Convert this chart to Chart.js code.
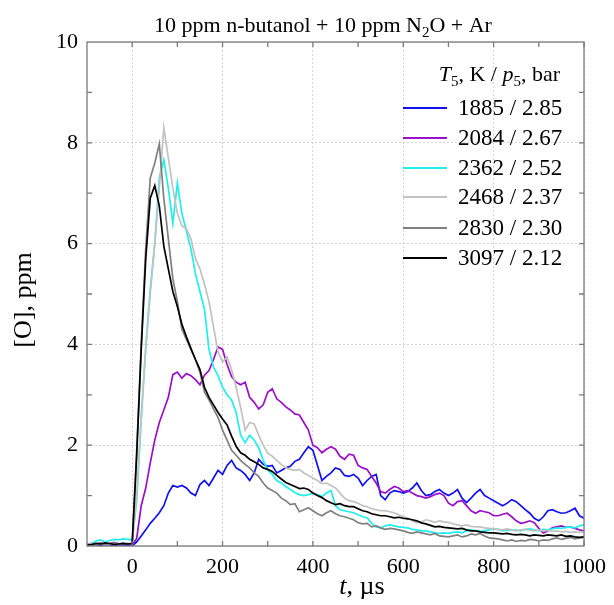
<!DOCTYPE html>
<html>
<head>
<meta charset="utf-8">
<script src="https://cdn.jsdelivr.net/npm/chart.js@4"></script>
<style>
  html, body { margin: 0; padding: 0; background: #fff; }
  #wrap { width: 614px; height: 605px; }
</style>
</head>
<body>
<div id="wrap"><canvas id="chart" width="614" height="605"></canvas></div>
<script>
// temps en µs (pas de 10 µs)
const t = [
  -100, -90, -80, -70, -60, -50, -40, -30, -20, -10,
  0, 10, 20, 30, 40, 50, 60, 70, 80, 90,
  100, 110, 120, 130, 140, 150, 160, 170, 180, 190,
  200, 210, 220, 230, 240, 250, 260, 270, 280, 290,
  300, 310, 320, 330, 340, 350, 360, 370, 380, 390,
  400, 410, 420, 430, 440, 450, 460, 470, 480, 490,
  500, 510, 520, 530, 540, 550, 560, 570, 580, 590,
  600, 610, 620, 630, 640, 650, 660, 670, 680, 690,
  700, 710, 720, 730, 740, 750, 760, 770, 780, 790,
  800, 810, 820, 830, 840, 850, 860, 870, 880, 890,
  900, 910, 920, 930, 940, 950, 960, 970, 980, 990,
  1000
];

// [O] en ppm, une série par essai
const o1885 = [
  0.01, 0.02, 0.02, 0.01, 0.03, 0.02, 0.01, 0.02, 0.02, 0.01,
  0.00, 0.08, 0.20, 0.32, 0.45, 0.55, 0.66, 0.80, 1.05, 1.20,
  1.17, 1.20, 1.15, 1.05, 1.00, 1.22, 1.30, 1.20, 1.35, 1.50,
  1.42, 1.60, 1.70, 1.55, 1.50, 1.42, 1.30, 1.45, 1.72, 1.62,
  1.58, 1.60, 1.45, 1.50, 1.55, 1.58, 1.68, 1.72, 1.85, 1.97,
  1.90, 1.60, 1.30, 1.38, 1.45, 1.55, 1.52, 1.40, 1.38, 1.42,
  1.35, 1.20, 1.30, 1.38, 1.42, 1.00, 0.92, 1.05, 1.10, 1.08,
  1.05, 1.08, 1.15, 1.25, 1.10, 1.00, 1.02, 1.08, 1.12, 1.05,
  1.00, 1.05, 1.12, 0.95, 0.86, 0.95, 1.05, 1.12, 1.00, 0.95,
  0.90, 0.85, 0.80, 0.85, 0.92, 0.88, 0.80, 0.72, 0.65, 0.55,
  0.50, 0.58, 0.70, 0.72, 0.68, 0.65, 0.66, 0.70, 0.75, 0.60,
  0.55
];
const o2084 = [
  0.03, 0.05, 0.04, 0.06, 0.03, 0.05, 0.07, 0.04, 0.05, 0.03,
  0.02, 0.15, 0.80, 1.15, 1.65, 2.10, 2.45, 2.70, 2.95, 3.40,
  3.45, 3.33, 3.42, 3.38, 3.30, 3.20, 3.39, 3.48, 3.70, 3.95,
  3.90, 3.60, 3.36, 3.25, 3.20, 3.25, 2.95, 2.85, 2.72, 2.80,
  3.05, 3.12, 2.92, 2.85, 2.76, 2.70, 2.62, 2.60, 2.45, 2.30,
  2.00, 1.95, 1.85, 1.92, 1.97, 1.92, 1.78, 1.72, 1.82, 1.80,
  1.60, 1.55, 1.52, 1.38, 1.25, 1.08, 1.05, 1.12, 1.18, 1.15,
  1.08, 1.10, 1.05, 1.00, 0.98, 0.95, 0.98, 1.02, 1.05, 1.00,
  0.85, 0.80, 0.88, 0.90, 0.80, 0.70, 0.65, 0.70, 0.68, 0.66,
  0.60, 0.60, 0.63, 0.65, 0.58, 0.50, 0.45, 0.47, 0.50, 0.46,
  0.35, 0.26, 0.30, 0.36, 0.38, 0.40, 0.37, 0.38, 0.35, 0.32,
  0.30
];
const o2362 = [
  0.02, 0.04, 0.10, 0.12, 0.08, 0.11, 0.13, 0.12, 0.14, 0.13,
  0.12, 0.90, 2.50, 3.95, 5.10, 6.00, 7.30, 7.66, 7.10, 6.40,
  7.20, 6.60, 6.25, 5.90, 5.40, 5.05, 4.70, 3.90, 3.55, 3.38,
  3.15, 3.00, 2.90, 2.65, 2.20, 2.05, 2.20, 2.10, 1.95, 1.70,
  1.51, 1.42, 1.30, 1.25, 1.18, 1.12, 1.06, 1.02, 1.00, 1.02,
  1.05, 1.02, 0.98, 1.05, 1.10, 0.80, 0.72, 0.70, 0.68, 0.66,
  0.62, 0.58, 0.56, 0.45, 0.38, 0.36, 0.40, 0.42, 0.40, 0.38,
  0.37, 0.36, 0.33, 0.32, 0.30, 0.30, 0.28, 0.26, 0.25, 0.26,
  0.25, 0.27, 0.28, 0.26, 0.30, 0.32, 0.30, 0.29, 0.30, 0.32,
  0.34, 0.33, 0.30, 0.32, 0.31, 0.32, 0.30, 0.33, 0.34, 0.32,
  0.30, 0.33, 0.32, 0.34, 0.36, 0.35, 0.37, 0.38, 0.36, 0.40,
  0.42
];
const o2468 = [
  0.03, 0.04, 0.02, 0.05, 0.04, 0.03, 0.05, 0.04, 0.06, 0.05,
  0.05, 1.00, 2.60, 3.90, 5.00, 6.00, 7.10, 8.30, 7.70, 7.10,
  6.60, 6.35, 6.30, 6.10, 5.70, 5.50, 5.20, 4.85, 4.35, 3.85,
  3.65, 3.75, 3.50, 3.15, 2.75, 2.30, 2.45, 2.42, 2.20, 2.00,
  1.84, 1.78, 1.70, 1.62, 1.55, 1.52, 1.50, 1.52, 1.45, 1.40,
  1.35, 1.30, 1.24, 1.25, 1.20, 1.15, 1.05, 0.95, 0.90, 0.88,
  0.85, 0.80, 0.78, 0.74, 0.72, 0.70, 0.70, 0.68, 0.66, 0.62,
  0.58, 0.55, 0.50, 0.46, 0.48, 0.52, 0.50, 0.47, 0.50, 0.48,
  0.47, 0.44, 0.42, 0.40, 0.42, 0.39, 0.38, 0.38, 0.36, 0.35,
  0.34, 0.33, 0.32, 0.34, 0.32, 0.30, 0.32, 0.33, 0.31, 0.30,
  0.32, 0.30, 0.31, 0.29, 0.30, 0.28, 0.29, 0.27, 0.28, 0.27,
  0.28
];
const o2830 = [
  0.03, 0.02, 0.04, 0.05, 0.03, 0.04, 0.06, 0.05, 0.04, 0.05,
  0.05, 1.90, 4.00, 5.90, 7.30, 7.60, 7.98, 6.90, 6.10, 5.30,
  4.85, 4.30, 4.10, 3.90, 3.70, 3.45, 3.05, 2.90, 2.72, 2.55,
  2.30, 2.10, 1.90, 1.80, 1.70, 1.62, 1.55, 1.45, 1.38, 1.25,
  1.15, 1.10, 1.05, 0.95, 0.90, 0.82, 0.84, 0.68, 0.72, 0.76,
  0.70, 0.64, 0.60, 0.66, 0.70, 0.64, 0.60, 0.58, 0.55, 0.52,
  0.46, 0.44, 0.45, 0.38, 0.40, 0.36, 0.33, 0.35, 0.34, 0.32,
  0.30, 0.27, 0.25, 0.28, 0.26, 0.24, 0.22, 0.25, 0.20, 0.19,
  0.18, 0.20, 0.22, 0.18, 0.20, 0.24, 0.22, 0.25, 0.20, 0.16,
  0.15, 0.14, 0.12, 0.10, 0.12, 0.09, 0.11, 0.10, 0.13, 0.12,
  0.10, 0.12, 0.11, 0.14, 0.16, 0.13, 0.15, 0.17, 0.14, 0.16,
  0.17
];
const o3097 = [
  0.02, 0.03, 0.05, 0.04, 0.06, 0.05, 0.03, 0.04, 0.05, 0.04,
  0.05, 1.80, 3.90, 5.70, 6.90, 7.15, 6.75, 5.95, 5.50, 5.05,
  4.75, 4.40, 4.15, 3.92, 3.70, 3.50, 3.15, 2.95, 2.80, 2.65,
  2.52, 2.40, 2.18, 1.98, 1.85, 1.80, 1.72, 1.67, 1.62, 1.55,
  1.52, 1.48, 1.40, 1.33, 1.26, 1.22, 1.18, 1.14, 1.15, 1.12,
  1.05, 1.00, 0.96, 0.90, 0.86, 0.82, 0.84, 0.80, 0.78, 0.78,
  0.74, 0.70, 0.68, 0.64, 0.62, 0.60, 0.60, 0.58, 0.56, 0.57,
  0.55, 0.54, 0.52, 0.50, 0.46, 0.44, 0.41, 0.38, 0.39, 0.37,
  0.36, 0.35, 0.34, 0.35, 0.32, 0.30, 0.30, 0.28, 0.27, 0.26,
  0.26, 0.25, 0.24, 0.25, 0.23, 0.22, 0.23, 0.22, 0.20, 0.22,
  0.21, 0.20, 0.22, 0.21, 0.20, 0.22, 0.19, 0.20, 0.18, 0.17,
  0.18
];

const runLabels = ['1885 / 2.85', '2084 / 2.67', '2362 / 2.52', '2468 / 2.37', '2830 / 2.30', '3097 / 2.12'];
const runColors = ['#1010f0', '#9a10c8', '#22eeee', '#c2c2c2', '#808080', '#000000'];
const xTicks = [0, 200, 400, 600, 800, 1000];
const yTicks = [0, 2, 4, 6, 8, 10];

const serif = '"Liberation Serif", "Times New Roman", serif';
const series = [o1885, o2084, o2362, o2468, o2830, o3097];

// texte avec italique / indice
function drawRich(ctx, parts, x, y, size, align) {
  const widths = parts.map(p => {
    ctx.font = (p.it ? 'italic ' : '') + Math.round(p.sub ? size * 0.68 : size) + 'px ' + serif;
    return ctx.measureText(p.t).width;
  });
  const total = widths.reduce((a, b) => a + b, 0);
  let cx = align === 'center' ? x - total / 2 : (align === 'right' ? x - total : x);
  ctx.textAlign = 'left';
  ctx.textBaseline = 'alphabetic';
  parts.forEach((p, i) => {
    ctx.font = (p.it ? 'italic ' : '') + Math.round(p.sub ? size * 0.68 : size) + 'px ' + serif;
    ctx.fillText(p.t, cx, p.sub ? y + size * 0.22 : y);
    cx += widths[i];
  });
}

const decor = {
  id: 'decor',
  afterDraw(chart) {
    const { ctx, chartArea: a, scales } = chart;
    ctx.save();
    // cadre
    ctx.strokeStyle = '#7a7a7a';
    ctx.lineWidth = 1.3;
    ctx.strokeRect(a.left, a.top, a.right - a.left, a.bottom - a.top);
    // graduations intérieures
    ctx.beginPath();
    for (let v = 0; v <= 1000; v += 100) {
      const px = scales.x.getPixelForValue(v);
      ctx.moveTo(px, a.bottom); ctx.lineTo(px, a.bottom - 5);
      ctx.moveTo(px, a.top); ctx.lineTo(px, a.top + 5);
    }
    for (let v = 1; v < 10; v++) {
      const py = scales.y.getPixelForValue(v);
      ctx.moveTo(a.left, py); ctx.lineTo(a.left + 5, py);
      ctx.moveTo(a.right, py); ctx.lineTo(a.right - 5, py);
    }
    ctx.stroke();

    ctx.fillStyle = '#000';
    // titre
    drawRich(ctx, [
      { t: '10 ppm n-butanol + 10 ppm N' }, { t: '2', sub: true }, { t: 'O + Ar' }
    ], 323, 32, 22, 'center');
    // titres des axes
    drawRich(ctx, [{ t: 't', it: true }, { t: ', \u00b5s' }], 362, 594, 26, 'center');
    ctx.save();
    ctx.translate(31, 300);
    ctx.rotate(-Math.PI / 2);
    drawRich(ctx, [{ t: '[O], ppm' }], 0, 0, 26, 'center');
    ctx.restore();

    // légende
    drawRich(ctx, [
      { t: 'T', it: true }, { t: '5', sub: true }, { t: ', K / ' },
      { t: 'p', it: true }, { t: '5', sub: true }, { t: ', bar' }
    ], 560, 81, 22, 'right');
    const rowY = [108, 138, 168, 197, 228, 258];
    runLabels.forEach((lab, i) => {
      ctx.strokeStyle = runColors[i];
      ctx.lineWidth = 2;
      ctx.beginPath();
      ctx.moveTo(403, rowY[i]); ctx.lineTo(447, rowY[i]);
      ctx.stroke();
      ctx.font = '23px ' + serif;
      ctx.textAlign = 'left';
      ctx.textBaseline = 'middle';
      ctx.fillStyle = '#000';
      ctx.fillText(lab, 458, rowY[i] + 1);
    });
    ctx.restore();
  }
};

new Chart(document.getElementById('chart'), {
  type: 'line',
  data: {
    datasets: series.map((s, i) => ({
      label: runLabels[i],
      data: t.map((x, k) => ({ x: x, y: s[k] })),
      borderColor: runColors[i],
      borderWidth: 1.7,
      pointRadius: 0,
      tension: 0,
      fill: false,
      order: 5 - i
    }))
  },
  options: {
    responsive: false,
    animation: false,
    layout: { padding: { top: 42, right: 24, left: 0, bottom: 0 } },
    plugins: { legend: { display: false }, tooltip: { enabled: false }, title: { display: false } },
    scales: {
      x: {
        type: 'linear', min: -100, max: 1000,
        afterBuildTicks: s => { s.ticks = xTicks.map(v => ({ value: v })); },
        afterFit: s => { s.height = 59; },
        grid: { color: '#d4d4d4', lineWidth: 1, drawTicks: false },
        border: { display: false, dash: [2, 2] },
        ticks: { padding: 8, autoSkip: false, maxRotation: 0, color: '#000', font: { family: serif, size: 22 },
                 callback: v => String(v) }
      },
      y: {
        min: 0, max: 10,
        afterBuildTicks: s => { s.ticks = yTicks.map(v => ({ value: v })); },
        afterFit: s => { s.width = 87; },
        grid: { color: '#d4d4d4', lineWidth: 1, drawTicks: false },
        border: { display: false, dash: [2, 2] },
        ticks: { padding: 9, color: '#000', font: { family: serif, size: 22 }, callback: v => String(v) }
      }
    }
  },
  plugins: [decor]
});
</script>
</body>
</html>
